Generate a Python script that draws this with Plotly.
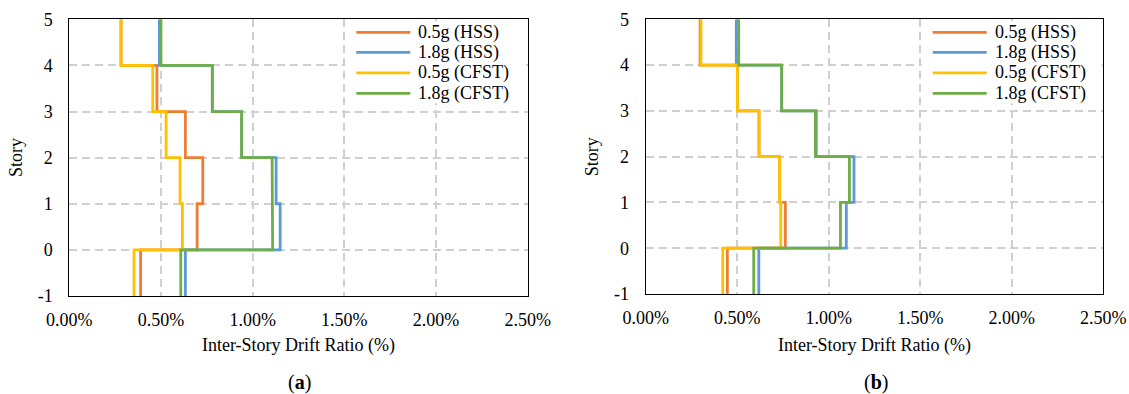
import plotly.graph_objects as go

# Story segments from top (5 -> 4) down to the base (0 -> -1)
story_tops = [5, 4, 3, 2, 1, 0]

# (a) inter-story drift ratio (%) per story segment
a_hss_05 = [0.282, 0.478, 0.633, 0.728, 0.697, 0.389]
a_hss_18 = [0.491, 0.780, 0.940, 1.128, 1.150, 0.633]
a_cfst_05 = [0.282, 0.455, 0.528, 0.604, 0.617, 0.353]
a_cfst_18 = [0.500, 0.780, 0.940, 1.106, 1.109, 0.608]

# (b) inter-story drift ratio (%) per story segment
b_hss_05 = [0.297, 0.501, 0.619, 0.732, 0.763, 0.446]
b_hss_18 = [0.495, 0.743, 0.932, 1.138, 1.096, 0.618]
b_cfst_05 = [0.302, 0.501, 0.619, 0.732, 0.738, 0.421]
b_cfst_18 = [0.508, 0.743, 0.927, 1.113, 1.064, 0.590]

series_names = ["0.5g (HSS)", "1.8g (HSS)", "0.5g (CFST)", "1.8g (CFST)"]
series_colors = ["#ED7D31", "#5B9BD5", "#FFC000", "#70AD47"]
panel_labels = ["a", "b"]
x_ticks = [0.0, 0.5, 1.0, 1.5, 2.0, 2.5]
y_ticks = [-1, 0, 1, 2, 3, 4, 5]

panels = [
    [a_hss_05, a_hss_18, a_cfst_05, a_cfst_18],
    [b_hss_05, b_hss_18, b_cfst_05, b_cfst_18],
]

FONT = "Liberation Serif, Times New Roman, serif"
FS = 18
W, H = 1129, 394

# plot-area boxes in pixels: (left, right, top, bottom)
boxes = [(69.3, 527.7, 19.3, 296.0), (645.7, 1103.3, 19.3, 294.0)]


def step_path(values):
    xs, ys = [], []
    for v, top in zip(values, story_tops):
        xs += [v, v]
        ys += [top, top - 1]
    return xs, ys


fig = go.Figure()
shapes, annotations = [], []

for p, (series, box) in enumerate(zip(panels, boxes)):
    ax = "" if p == 0 else str(p + 1)
    xref, yref = "x" + ax, "y" + ax
    for vals, name, color in zip(series, series_names, series_colors):
        xs, ys = step_path(vals)
        fig.add_trace(go.Scatter(
            x=xs, y=ys, mode="lines", name=name, showlegend=False,
            line=dict(color=color, width=2.8),
            xaxis=xref, yaxis=yref,
        ))

    left, right, top, bottom = box
    dom_x = [left / W, right / W]
    dom_y = [1 - bottom / H, 1 - top / H]
    axis_common = dict(
        showgrid=True, gridcolor="#d0d0d0", gridwidth=1.5, griddash="8px,5px",
        zeroline=False, showline=True, mirror=True, linecolor="#000000",
        linewidth=1, ticks="", automargin=False,
        tickfont=dict(family=FONT, size=FS, color="#000"),
    )
    fig.layout["xaxis" + ax] = dict(
        domain=dom_x, range=[0, 2.5], tickvals=x_ticks,
        ticktext=[f"{t:.2f}%" for t in x_ticks], anchor=yref,
        ticklabelstandoff=7, **axis_common,
    )
    fig.layout["yaxis" + ax] = dict(
        domain=dom_y, range=[-1, 5], tickvals=y_ticks,
        ticktext=[str(t) for t in y_ticks], anchor=xref,
        ticklabelstandoff=12, **axis_common,
    )

    # legend box in the upper-right corner of each panel
    pw, ph = right - left, bottom - top
    fx = lambda px: (px - left) / pw
    fy = lambda py: (bottom - py) / ph
    xd, yd = xref + " domain", yref + " domain"
    shapes.append(dict(
        type="rect", xref=xd, yref=yd, x0=fx(left + 276), x1=fx(right - 1.5),
        y0=fy(top + 84), y1=fy(top + 2), fillcolor="white",
        line=dict(width=0), layer="above",
    ))
    row_y = [top + 13, top + 33, top + 53.5, top + 74]
    for name, color, ry in zip(series_names, series_colors, row_y):
        shapes.append(dict(
            type="line", xref=xd, yref=yd, x0=fx(left + 287), x1=fx(left + 341),
            y0=fy(ry), y1=fy(ry), line=dict(color=color, width=2.8),
            layer="above",
        ))
        annotations.append(dict(
            text=name, xref=xd, yref=yd, x=fx(left + 347), y=fy(ry),
            xanchor="left", yanchor="middle", showarrow=False,
            font=dict(family=FONT, size=FS, color="#000"),
        ))

    cx = (left + right) / 2
    annotations.append(dict(
        text="Inter-Story Drift Ratio (%)", xref="paper", yref="paper",
        x=cx / W, y=1 - 345 / H, xanchor="center", yanchor="middle",
        showarrow=False, font=dict(family=FONT, size=FS, color="#000"),
    ))
    annotations.append(dict(
        text="Story", xref="paper", yref="paper", textangle=-90,
        x=(left - 54) / W, y=1 - (top + bottom) / 2 / H,
        xanchor="center", yanchor="middle", showarrow=False,
        font=dict(family=FONT, size=FS, color="#000"),
    ))
    annotations.append(dict(
        text=f"(<b>{panel_labels[p]}</b>)", xref="paper", yref="paper",
        x=(cx + 1) / W, y=1 - 382 / H, xanchor="center", yanchor="middle",
        showarrow=False, font=dict(family=FONT, size=20, color="#000"),
    ))

fig.update_layout(
    width=W, height=H, margin=dict(l=0, r=0, t=0, b=0),
    paper_bgcolor="white", plot_bgcolor="white",
    shapes=shapes, annotations=annotations, showlegend=False,
)

fig.write_html("out.html")
